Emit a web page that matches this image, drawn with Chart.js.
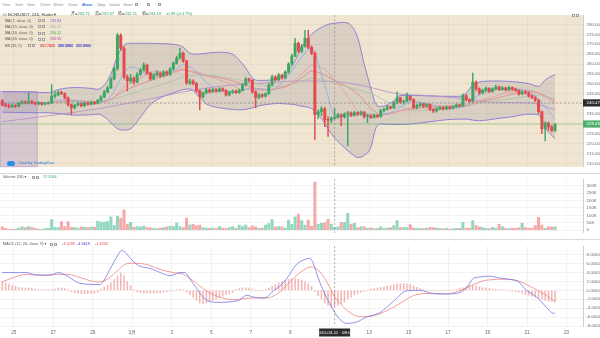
<!DOCTYPE html>
<html>
<head>
<meta charset="utf-8">
<title>BCH/USDT, 240, Huobi</title>
<script src="https://cdn.jsdelivr.net/npm/chart.js@4.4.1/dist/chart.umd.min.js"></script>
<style>
  html, body { margin: 0; padding: 0; }
  body { width: 600px; height: 338px; overflow: hidden; position: relative; background: #ffffff;
         font-family: "Liberation Sans", "DejaVu Sans", "Noto Sans CJK SC", sans-serif; }
  canvas { position: absolute; left: 0; }
  .t { position: absolute; white-space: nowrap; transform: scale(0.5); transform-origin: 0 0; }
  .box { position: absolute; width: 3.2px; height: 3.2px; border: 0.5px solid #a0a0a0; box-sizing: border-box; background: #fff; }
  .sep { position: absolute; left: 0; width: 600px; height: 1px; background: #d9d9d9; }
</style>
</head>
<body>
<script>
// 4小时K线, 索引0 ≈ 2月24日 12:00
const opens = [
  241.5, 239.5, 239.0, 238.6, 239.2, 238.8, 240.2, 241.0, 240.4, 241.2,
  240.5, 240.0, 240.6, 239.8, 240.3, 240.5, 243.8, 244.5, 245.8, 245.2,
  243.0, 239.5, 238.0, 239.4, 240.2, 239.0, 240.5, 239.8, 240.8, 240.2,
  241.8, 243.5, 246.0, 248.0, 252.5, 257.8, 274.5, 268.0, 253.5, 251.5,
  253.0, 251.0, 255.0, 257.0, 259.5, 255.5, 252.5, 254.5, 255.5, 254.0,
  256.0, 254.8, 257.5, 260.5, 263.0, 265.5, 261.5, 250.5, 251.5, 250.2,
  246.5, 243.5, 245.5, 247.0, 246.0, 247.2, 246.3, 247.5, 246.8, 244.5,
  245.8, 246.4, 245.6, 246.8, 249.5, 252.5, 251.8, 246.0, 243.2, 244.5,
  243.8, 245.0, 249.5, 253.5, 252.0, 254.5, 253.0, 256.0, 260.0, 264.0,
  270.5, 266.5, 269.0, 273.0, 268.5, 265.5, 234.5, 236.0, 237.5, 232.0,
  231.8, 232.71, 233.2, 234.5, 233.5, 234.8, 235.5, 234.2, 235.6, 234.8,
  235.8, 233.5, 234.0, 233.2, 234.2, 233.6, 236.5, 237.2, 238.5, 238.0,
  240.5, 243.0, 240.8, 241.3, 243.6, 242.2, 238.2, 239.2, 240.0, 238.8,
  239.6, 237.2, 236.4, 237.5, 238.2, 237.4, 238.5, 237.8, 238.6, 239.5,
  239.0, 244.2, 242.0, 241.2, 251.0, 247.5, 245.5, 246.8, 247.8, 246.2,
  247.5, 248.6, 247.2, 248.0, 247.0, 248.2, 247.4, 246.8, 245.0, 246.0,
  245.5, 244.0, 243.2, 241.8, 236.0, 227.5, 230.3, 228.4, 226.6
]
const highs = [
  242.3, 240.2, 239.8, 239.9, 239.6, 240.8, 241.8, 241.5, 245.5, 241.8,
  241.0, 241.2, 240.9, 240.8, 241.2, 249.7, 246.0, 246.6, 246.4, 245.6,
  243.4, 240.0, 239.8, 240.9, 240.5, 241.0, 240.9, 241.4, 241.2, 242.3,
  244.2, 246.8, 248.9, 253.5, 258.6, 275.5, 275.2, 268.8, 254.5, 254.8,
  253.6, 255.8, 257.9, 260.6, 260.0, 256.0, 255.2, 256.8, 256.0, 256.8,
  256.6, 258.2, 261.2, 264.0, 268.0, 266.0, 262.0, 252.6, 252.2, 250.8,
  247.0, 246.0, 247.8, 247.6, 247.9, 247.7, 248.2, 248.0, 247.2, 246.4,
  247.0, 246.9, 247.4, 250.2, 253.4, 253.0, 252.2, 246.5, 245.2, 245.0,
  245.6, 250.3, 254.5, 254.2, 255.4, 255.0, 256.8, 260.8, 265.0, 273.0,
  271.2, 270.0, 277.0, 277.0, 269.2, 266.0, 237.0, 238.6, 238.2, 233.5,
  233.6, 237.67, 235.2, 235.0, 235.5, 236.2, 236.0, 236.2, 236.0, 236.5,
  236.1, 234.8, 234.6, 234.8, 234.6, 237.2, 237.9, 239.2, 239.0, 241.2,
  246.0, 243.4, 242.0, 245.5, 244.0, 242.6, 239.9, 240.6, 240.4, 240.2,
  240.0, 237.6, 238.0, 238.8, 238.6, 239.0, 238.9, 239.2, 240.0, 239.9,
  245.0, 244.6, 242.5, 255.5, 251.6, 248.0, 247.4, 248.6, 248.2, 248.1,
  249.4, 249.0, 248.7, 248.4, 248.9, 248.6, 247.9, 247.2, 246.6, 246.4,
  245.9, 244.6, 243.6, 242.3, 236.5, 231.0, 230.8, 229.0, 230.2
]
const lows = [
  239.0, 238.4, 238.0, 238.2, 238.1, 238.5, 239.8, 239.9, 240.0, 239.9,
  239.4, 239.5, 239.2, 239.4, 239.8, 240.2, 243.0, 244.0, 244.6, 242.5,
  238.8, 234.5, 237.5, 238.9, 238.4, 238.7, 239.2, 239.5, 239.7, 239.9,
  241.4, 243.0, 245.5, 247.6, 252.0, 257.0, 267.0, 252.5, 246.5, 250.5,
  249.8, 250.5, 254.3, 256.5, 254.8, 251.8, 252.0, 253.8, 253.2, 253.6,
  254.0, 254.2, 257.0, 260.0, 262.5, 260.8, 249.8, 249.6, 249.5, 245.8,
  237.0, 242.8, 245.0, 245.4, 245.6, 245.8, 246.0, 246.2, 243.9, 244.0,
  245.3, 245.1, 245.2, 246.4, 249.0, 251.0, 245.4, 238.0, 242.6, 243.2,
  243.3, 244.6, 249.0, 251.4, 251.6, 252.4, 252.6, 255.5, 259.5, 263.6,
  265.8, 265.8, 268.5, 267.8, 264.8, 222.0, 232.5, 234.0, 228.5, 223.6,
  230.5, 232.21, 232.6, 229.0, 232.8, 219.0, 233.5, 233.8, 234.0, 234.2,
  232.8, 230.5, 232.6, 232.8, 233.0, 233.2, 235.8, 236.8, 237.4, 237.6,
  240.0, 240.2, 240.0, 241.0, 241.6, 237.4, 237.5, 238.6, 238.2, 238.3,
  236.6, 235.5, 235.8, 237.0, 236.8, 237.0, 237.2, 237.4, 238.2, 238.4,
  238.6, 241.5, 240.6, 240.8, 246.8, 244.8, 245.0, 246.2, 245.6, 245.8,
  247.0, 246.6, 246.8, 246.4, 246.6, 246.8, 246.2, 244.4, 244.6, 244.9,
  243.4, 242.6, 241.0, 235.2, 225.0, 221.3, 226.8, 225.8, 226.0
]
const closes = [
  239.5, 239.0, 238.6, 239.2, 238.8, 240.2, 241.0, 240.4, 241.2, 240.5,
  240.0, 240.6, 239.8, 240.3, 240.5, 243.8, 244.5, 245.8, 245.2, 243.0,
  239.5, 238.0, 239.4, 240.2, 239.0, 240.5, 239.8, 240.8, 240.2, 241.8,
  243.5, 246.0, 248.0, 252.5, 257.8, 274.5, 268.0, 253.5, 251.5, 253.0,
  251.0, 255.0, 257.0, 259.5, 255.5, 252.5, 254.5, 255.5, 254.0, 256.0,
  254.8, 257.5, 260.5, 263.0, 265.5, 261.5, 250.5, 251.5, 250.2, 246.5,
  243.5, 245.5, 247.0, 246.0, 247.2, 246.3, 247.5, 246.8, 244.5, 245.8,
  246.4, 245.6, 246.8, 249.5, 252.5, 251.8, 246.0, 243.2, 244.5, 243.8,
  245.0, 249.5, 253.5, 252.0, 254.5, 253.0, 256.0, 260.0, 264.0, 270.5,
  266.5, 269.0, 273.0, 268.5, 265.5, 234.5, 236.0, 237.5, 232.0, 231.8,
  232.7, 233.19, 234.5, 233.5, 234.8, 235.5, 234.2, 235.6, 234.8, 235.8,
  233.5, 234.0, 233.2, 234.2, 233.6, 236.5, 237.2, 238.5, 238.0, 240.5,
  243.0, 240.8, 241.3, 243.6, 242.2, 238.2, 239.2, 240.0, 238.8, 239.6,
  237.2, 236.4, 237.5, 238.2, 237.4, 238.5, 237.8, 238.6, 239.5, 239.0,
  244.2, 242.0, 241.2, 251.0, 247.5, 245.5, 246.8, 247.8, 246.2, 247.5,
  248.6, 247.2, 248.0, 247.0, 248.2, 247.4, 246.8, 245.0, 246.0, 245.5,
  244.0, 243.2, 241.8, 236.0, 227.5, 230.3, 228.4, 226.6, 229.5
]
// 成交量 (K)
const volumes = [
  22, 12, 6, 5, 8, 14, 22, 18, 25, 20,
  12, 8, 6, 10, 12, 71, 20, 18, 58, 25,
  58, 20, 18, 15, 22, 20, 18, 22, 20, 62,
  55, 55, 58, 90, 31, 95, 82, 137, 40, 53,
  20, 24, 22, 28, 18, 16, 12, 10, 14, 18,
  22, 28, 25, 50, 25, 18, 82, 35, 40, 30,
  35, 18, 15, 12, 15, 10, 25, 14, 12, 18,
  25, 12, 35, 25, 35, 18, 30, 22, 12, 15,
  35, 45, 71, 22, 25, 22, 15, 68, 40, 90,
  108, 64, 35, 68, 27, 324, 40, 46, 50, 73,
  40, 20, 22, 53, 53, 114, 40, 46, 18, 22,
  22, 13, 16, 10, 10, 22, 12, 15, 18, 31,
  64, 18, 18, 18, 37, 15, 12, 12, 10, 15,
  20, 18, 15, 12, 10, 12, 8, 10, 12, 12,
  53, 15, 15, 64, 31, 22, 18, 12, 10, 20,
  14, 40, 22, 12, 10, 15, 12, 18, 46, 18,
  12, 15, 31, 86, 35, 13, 22, 22, 22
]
const macdHist = [
  2.0, 1.7, 1.4, 1.1, 0.9, 0.7, 0.6, 0.5, 0.5, 0.4,
  0.3, 0.2, 0.2, 0.1, 0.1, 0.2, 0.3, 0.5, 0.5, 0.4,
  0.2, -0.3, -0.5, -0.6, -0.7, -0.8, -0.8, -0.7, -0.6, -0.4,
  0.3, 0.8, 1.2, 1.7, 2.4, 3.2, 3.9, 3.3, 2.0, 1.0,
  0.2, -0.3, -0.5, -0.6, -0.6, -0.7, -0.7, -0.6, -0.5, -0.4,
  -0.3, -0.2, -0.1, 0.1, 0.2, 0.1, -0.4, -1.0, -1.6, -2.2,
  -2.8, -3.0, -2.8, -2.5, -2.2, -1.9, -1.6, -1.3, -1.0, -0.8,
  -0.5, 0.2, 0.4, 0.6, 0.6, 0.5, 0.3, 0.1, 0.0, -0.1,
  0.1, 0.5, 0.9, 1.3, 1.7, 2.0, 2.2, 2.4, 2.6, 2.6,
  2.5, 2.3, 1.9, 1.5, 0.9, -0.3, -1.2, -2.0, -2.8, -3.4,
  -3.8, -3.5, -3.4, -3.0, -2.6, -2.0, -1.5, -1.0, -0.7, -0.4,
  -0.2, 0.1, 0.3, 0.4, 0.5, 0.7, 0.8, 1.0, 1.1, 1.3,
  1.4, 1.5, 1.6, 1.5, 1.3, 1.0, 0.7, 0.4, 0.2, 0.1,
  0.0, -0.1, -0.1, 0.0, 0.0, 0.1, 0.1, 0.1, 0.2, 0.4,
  0.6, 0.8, 1.0, 1.1, 1.0, 0.8, 0.6, 0.5, 0.4, 0.3,
  0.2, 0.2, 0.1, 0.1, 0.0, -0.2, -0.3, -0.4, -0.6, -0.9,
  -1.1, -1.3, -1.5, -1.8, -2.0, -2.2, -2.4, -2.5, -2.6
]

// 指标线 (读图采样点, x = K线索引)
const lineX = [0, 8, 14, 17, 22, 27, 29, 31, 33, 35, 37, 39, 41, 43, 45, 48, 52, 55, 57, 59,
  62, 66, 70, 72, 74, 76, 78, 82, 84, 86, 88, 90, 92, 94, 97, 99, 101, 104, 106, 108,
  110, 112, 113.5, 115, 119, 121, 125, 130, 135, 139, 141, 143, 145, 150, 155, 160, 163, 165, 168]
const bbUpper = [246.2, 246.0, 245.6, 247.2, 248.2, 247.8, 247.3, 249.5, 255, 264, 269.5, 270.5, 270.5, 270.5, 270.5, 270.3, 270, 268.5, 265.5, 265,
  265.5, 266, 265, 262, 258, 253, 251.8, 252, 253, 255, 259, 265, 271, 275, 278.5, 280, 280.6, 281, 279.5, 273.5,
  260, 248, 240, 238.6, 241.5, 244.2, 244.2, 244, 243.8, 243.8, 245.5, 249.5, 251, 251.5, 251.2, 250.2, 248.8, 252, 254.8]
const bbLower = [235.8, 235.6, 235.5, 235.2, 234.3, 234.5, 234.8, 233.5, 230.5, 227.5, 226.8, 227.5, 231, 235.5, 239.5, 243, 245.5, 247.2, 247.5, 245,
  240, 238, 237.2, 237, 237.2, 238, 239, 240, 240.2, 240, 239.8, 239.2, 238.5, 237.6, 232.5, 227.5, 222.9, 218, 215, 213,
  214, 218, 227.5, 229.8, 229.6, 229.6, 230, 231, 232, 232.3, 232.3, 231.8, 231.5, 232.5, 233.5, 234.8, 234.5, 228, 222.5]
const bbBasis = [240.5, 240.6, 240.5, 241.0, 241.3, 241.2, 241.0, 241.3, 242.2, 244.5, 246.5, 248, 249.3, 250.5, 251.8, 253.5, 256, 257.5, 256.5, 255.5,
  254.2, 253.2, 251.5, 250.5, 249.5, 248, 247.5, 247.2, 247.8, 248.5, 250, 252, 254.3, 256.5, 255.3, 253.7, 251.7, 249.3, 247.4, 244.9,
  241.5, 237.7, 235.9, 234.4, 235.5, 236.5, 237.4, 238.2, 238.3, 238.5, 239.1, 240.2, 241, 242.8, 244.8, 246.3, 245.5, 244, 241.5]
const ma7 = [240.2, 240.4, 240.3, 242.0, 241.8, 239.8, 240.4, 241.4, 243.8, 249.5, 255.5, 258.5, 257.8, 255.5, 255, 255.2, 256.3, 259.8, 258.5, 256.5,
  250.8, 246.5, 246.1, 246.3, 247.4, 248, 247.6, 247, 249.2, 252.4, 256.6, 261.3, 265.6, 268.1, 254.9, 243.7, 234, 233.4, 234.3, 234.9,
  235, 234.4, 234.2, 234.4, 236.3, 238.6, 241.2, 239.6, 237.6, 238.3, 239.4, 242.5, 244.5, 247.3, 247.6, 246.2, 242.5, 238.5, 232.5]
const ma15 = [240.5, 240.4, 240.3, 241.0, 241.8, 241.2, 240.8, 241.0, 242.2, 245, 248.5, 250.5, 252, 254, 256, 256.2, 255.5, 257, 256.5, 256,
  254.5, 252, 249.5, 247.5, 247.2, 247.3, 246.8, 247.3, 248, 248.8, 250.8, 253.5, 256.5, 259.5, 258, 256, 251.6, 246, 241, 236.2,
  234.7, 234.4, 234.3, 234.5, 235.5, 236.5, 238.3, 239.2, 239, 238.6, 239.2, 240.3, 241.5, 244, 246.2, 247, 245.3, 243.5, 240.2]
const ma30 = [240.8, 240.6, 240.5, 240.6, 241, 241.3, 241.2, 241.5, 242, 243, 244, 245, 246, 247, 248, 249.5, 251.8, 253.5, 254.2, 254.5,
  254.5, 253.8, 252.5, 252, 251.2, 250.5, 249.8, 248.8, 248.8, 249.2, 250, 251, 252, 252.8, 252.3, 251.4, 250.2, 249, 248, 247.2,
  246.2, 245.4, 244.2, 242.8, 239.5, 238.5, 236.4, 237, 237.7, 238.1, 238.8, 239.5, 240.4, 241.6, 242.7, 243.9, 244.3, 243.7, 242.7]
const ma60X = [0, 14, 29, 45, 55, 62, 70, 80, 90, 101, 110, 120, 130, 140, 150, 160, 168]
const ma60 = [231, 234, 237.5, 242.5, 246, 248, 249.5, 250.5, 251.5, 251.2, 249, 245.1, 244.1, 242.7, 240.7, 240.5, 237]

const macdX = [0, 7.4, 10, 14.5, 17, 19.6, 21, 23.6, 29.7, 30.7, 32.7, 34.8, 36.3, 37.8, 39.8, 41.9, 43.9, 45.9, 48, 51,
  54, 55.5, 57, 59, 61, 63, 66, 70, 72, 74.3, 76.3, 79.3, 80.4, 82.4, 84.4, 86.4, 89.4, 91.5, 93.5, 94.5,
  96, 98, 100, 101, 102, 104.6, 107.7, 110.7, 114.8, 118.8, 122.9, 127, 131, 135, 138, 141, 143, 145, 148, 151,
  154, 157, 159, 161, 163, 165.5, 167, 168]
const macdLine = [4.0, 4.0, 3.5, 3.4, 4.0, 3.3, 2.6, 1.6, 1.3, 2.0, 4.7, 7.5, 9.0, 8.2, 6.5, 5.4, 5.1, 4.7, 4.0, 3.3,
  4.0, 4.0, 2.6, 0.5, -1.5, -2.5, -2.7, -2.5, -2.2, -1.1, -1.5, -1.7, -1.5, -0.1, 1.0, 2.6, 5.8, 6.8, 7.2, 6.1,
  2.8, -0.8, -3.6, -4.94, -6.0, -7.4, -7.1, -6.0, -5.0, -2.5, -0.1, 0.0, -0.7, -0.8, -0.7, 0.5, 2.6, 3.0, 3.2, 2.8,
  2.5, 1.9, 0.2, -0.8, -1.9, -3.9, -5.0, -5.2]
const signalX = [0, 3.4, 7.4, 11.5, 16.5, 19.6, 23.6, 27.7, 29.7, 32.7, 34.8, 37.8, 39.8, 43.9, 48, 52, 55, 58, 62, 66,
  70, 76.3, 80.4, 84.4, 87.4, 90.5, 94, 96.5, 99.6, 101, 102.6, 105.7, 108.7, 112.8, 116.8, 120.9, 124.9, 129, 135, 139,
  143.1, 147.2, 153.3, 157.3, 161.4, 165.5, 168]
const signalLine = [1.9, 2.9, 3.6, 3.4, 3.6, 3.6, 2.9, 2.0, 1.9, 2.9, 4.3, 6.0, 6.1, 5.8, 4.7, 4.0, 3.6, 2.2, -0.1, -1.5,
  -2.1, -1.7, -1.7, -0.3, 1.9, 4.0, 5.3, 4.2, 0.6, -1.43, -2.9, -5.0, -5.9, -5.7, -4.6, -2.9, -1.2, -0.7, -0.8, -0.1,
  1.3, 2.3, 2.5, 2.0, 0.5, -1.2, -2.5]

// 时间轴
const tickPos = [3.5, 15.5, 27.5, 39.5, 51.5, 63.5, 75.5, 87.5, 99.5, 111.5, 123.5, 135.5, 147.5, 159.5, 171.5]
const tickLabels = ['25', '27', '29', '3月', '3', '5', '7', '9', '11', '13', '15', '17', '19', '21', '23']

const crossIndex = 101
const crossPrice = 240.47
const lastPrice = 229.84

const X_MIN = -0.7
const X_MAX = 176.5
const UP = '#3ea665'
const DOWN = '#e5484d'
const VOL_UP = '#94d7c1'
const VOL_DOWN = '#f5aaa9'
const PANE_BG = '#f0e5d0'
const BAND = '#8478d4'
const FONT = '"Liberation Sans", "DejaVu Sans", sans-serif'

Chart.defaults.font.family = FONT
Chart.defaults.animation = false

function makeCanvas(top, h) {
  const c = document.createElement('canvas')
  c.width = 600
  c.height = h
  c.style.top = top + 'px'
  document.body.appendChild(c)
  return c
}

function xAxis(showLabels) {
  return {
    type: 'linear',
    min: X_MIN,
    max: X_MAX,
    offset: false,
    afterBuildTicks: (s) => { s.ticks = tickPos.map((v) => ({ value: v })) },
    afterFit: (s) => { s.height = showLabels ? 12 : 0 },
    grid: { color: showLabels ? '#f1f1f1' : 'rgba(0,0,0,0.03)', drawTicks: false, offset: false },
    border: { display: false },
    ticks: {
      display: showLabels,
      padding: 4,
      maxRotation: 0,
      autoSkip: false,
      font: { size: 4.6 },
      color: '#666',
      callback: (v, i) => tickLabels[i],
    },
  }
}

function rightAxis(min, max, step, fmt, gridColor) {
  return {
    position: 'right',
    min: min,
    max: max,
    afterFit: (s) => { s.width = 17 },
    grid: { color: gridColor, drawTicks: false },
    border: { display: true, color: '#cfcfcf' },
    ticks: { stepSize: step, includeBounds: false, padding: 3.5, font: { size: 4.4 }, color: '#6b6b6b', callback: fmt },
  }
}

function lineSet(xs, ys, color, order, extra) {
  return Object.assign({
    type: 'line',
    data: xs.map((x, k) => ({ x: x, y: ys[k] })),
    borderColor: color,
    borderWidth: 0.8,
    pointRadius: 0,
    fill: false,
    cubicInterpolationMode: 'monotone',
    order: order,
  }, extra || {})
}

// 十字光标竖线
const crossV = {
  id: 'crossV',
  afterDatasetsDraw(chart) {
    const { ctx, chartArea, scales } = chart
    const x = scales.x.getPixelForValue(crossIndex)
    ctx.save()
    ctx.strokeStyle = '#8a8a8a'
    ctx.lineWidth = 0.7
    ctx.setLineDash([2, 2])
    ctx.beginPath()
    ctx.moveTo(x, chartArea.top)
    ctx.lineTo(x, chartArea.bottom)
    ctx.stroke()
    ctx.restore()
  },
}

function axisTag(chart, value, text, bg) {
  const { ctx, scales, chartArea } = chart
  const y = scales.y.getPixelForValue(value)
  ctx.save()
  ctx.fillStyle = bg
  ctx.fillRect(chartArea.right, y - 3.6, 17, 7.2)
  ctx.fillStyle = '#ffffff'
  ctx.font = '4.4px ' + FONT
  ctx.textBaseline = 'middle'
  ctx.fillText(text, chartArea.right + 3.5, y + 0.2)
  ctx.restore()
}

// ---------- 主图 ----------
const c1 = makeCanvas(9, 164)
const candleColors = closes.map((c, i) => (c >= opens[i] ? UP : DOWN))

new Chart(c1, {
  type: 'bar',
  data: {
    datasets: [
      { type: 'bar', data: closes.map((c, i) => ({ x: i, y: [opens[i], c] })), backgroundColor: candleColors,
        barThickness: 2.3, grouped: false, minBarLength: 0.7, order: 0 },
      { type: 'bar', data: highs.map((h, i) => ({ x: i, y: [lows[i], h] })), backgroundColor: candleColors,
        barThickness: 0.8, grouped: false, order: 1 },
      lineSet(lineX, ma7, '#86acea', 2),
      lineSet(lineX, ma15, '#e79a9a', 3),
      lineSet(lineX, ma30, '#adc2a6', 4),
      lineSet(ma60X, ma60, '#b98acb', 5),
      lineSet(lineX, bbBasis, '#e27a7a', 6, { borderWidth: 0.7 }),
      lineSet(lineX, bbUpper, BAND, 7, { borderWidth: 0.9 }),
      lineSet(lineX, bbLower, BAND, 8, { borderWidth: 0.9, fill: '-1', backgroundColor: 'rgba(125, 118, 140, 0.2)' }),
    ],
  },
  options: {
    responsive: false,
    devicePixelRatio: 1,
    events: [],
    layout: { padding: 0 },
    plugins: { legend: { display: false }, tooltip: { enabled: false } },
    scales: {
      x: xAxis(false),
      y: rightAxis(208.27, 284.66, 5, (v) => v.toFixed(2), 'rgba(0,0,0,0.03)'),
    },
  },
  plugins: [
    {
      id: 'paneBg',
      beforeDraw(chart) {
        const { ctx, chartArea } = chart
        ctx.save()
        ctx.fillStyle = PANE_BG
        ctx.fillRect(chartArea.left, chartArea.top, chartArea.right - chartArea.left, chartArea.bottom - chartArea.top)
        ctx.restore()
      },
      beforeDatasetsDraw(chart) {
        // 左侧矩形标注
        const { ctx, scales, chartArea } = chart
        const x1 = scales.x.getPixelForValue(10.6)
        const y0 = scales.y.getPixelForValue(246.3)
        ctx.save()
        ctx.fillStyle = 'rgba(150, 125, 205, 0.28)'
        ctx.fillRect(chartArea.left, y0, x1 - chartArea.left, chartArea.bottom - y0)
        ctx.strokeStyle = 'rgba(125, 100, 195, 0.55)'
        ctx.lineWidth = 0.6
        ctx.strokeRect(chartArea.left, y0, x1 - chartArea.left, chartArea.bottom - y0)
        ctx.restore()
      },
      afterDatasetsDraw(chart) {
        const { ctx, scales, chartArea } = chart
        const yl = scales.y.getPixelForValue(lastPrice)
        const yc = scales.y.getPixelForValue(crossPrice)
        ctx.save()
        ctx.strokeStyle = 'rgba(76, 175, 80, 0.4)'
        ctx.lineWidth = 1
        ctx.beginPath()
        ctx.moveTo(chartArea.left, yl)
        ctx.lineTo(chartArea.right, yl)
        ctx.stroke()
        ctx.strokeStyle = '#8a8a8a'
        ctx.lineWidth = 0.7
        ctx.setLineDash([2, 2])
        ctx.beginPath()
        ctx.moveTo(chartArea.left, yc)
        ctx.lineTo(chartArea.right, yc)
        ctx.stroke()
        ctx.restore()
      },
      afterDraw(chart) {
        axisTag(chart, crossPrice, '240.47', '#2b2b2b')
        axisTag(chart, lastPrice, '229.49', '#4caf6a')
      },
    },
    crossV,
  ],
})

// ---------- 成交量 ----------
const c2 = makeCanvas(173, 66)
new Chart(c2, {
  type: 'bar',
  data: {
    datasets: [
      { data: volumes.map((v, i) => ({ x: i, y: v })), backgroundColor: closes.map((c, i) => (c >= opens[i] ? VOL_UP : VOL_DOWN)),
        barThickness: 2.4, grouped: false },
    ],
  },
  options: {
    responsive: false,
    devicePixelRatio: 1,
    events: [],
    plugins: { legend: { display: false }, tooltip: { enabled: false } },
    scales: {
      x: xAxis(false),
      y: rightAxis(-18.1, 344.5, 50, (v) => (v === 0 ? '0' : v + 'K'), '#f2f2f2'),
    },
  },
  plugins: [crossV],
})

// ---------- MACD ----------
const c3 = makeCanvas(240, 98)
new Chart(c3, {
  type: 'bar',
  data: {
    datasets: [
      lineSet(macdX, macdLine, '#7676e6', 0, { borderWidth: 0.8 }),
      lineSet(signalX, signalLine, '#ef8585', 1, { borderWidth: 0.8 }),
      { type: 'bar', data: macdHist.map((v, i) => ({ x: i, y: v })), backgroundColor: 'rgba(236, 110, 110, 0.5)',
        barThickness: 0.9, grouped: false, order: 2 },
    ],
  },
  options: {
    responsive: false,
    devicePixelRatio: 1,
    events: [],
    plugins: { legend: { display: false }, tooltip: { enabled: false } },
    scales: {
      x: xAxis(true),
      y: Object.assign(rightAxis(-8, 9.94, 2, (v) => v.toFixed(4), '#f2f2f2'), {
        afterBuildTicks: (s) => { s.ticks = s.ticks.filter((t) => t.value <= 8.5) },
      }),
    },
  },
  plugins: [
    crossV,
    {
      id: 'dateTag',
      afterDraw(chart) {
        const { ctx, scales, chartArea } = chart
        const x = scales.x.getPixelForValue(crossIndex)
        ctx.save()
        ctx.fillStyle = '#2b2b2b'
        ctx.fillRect(x - 15.5, chartArea.bottom + 2.5, 31, 8)
        ctx.fillStyle = '#ffffff'
        ctx.font = '4.4px ' + FONT
        ctx.textAlign = 'center'
        ctx.textBaseline = 'middle'
        ctx.fillText('2020-03-11 · 08:00', x, chartArea.bottom + 6.6)
        ctx.restore()
      },
    },
  ],
})

// ---------- 文字 ----------
function addText(x, y, html, size, color, weight) {
  const d = document.createElement('div')
  d.className = 't'
  d.innerHTML = html
  d.style.left = x + 'px'
  d.style.top = (y - size / 2) + 'px'
  d.style.fontSize = (size * 2) + 'px'
  d.style.lineHeight = (size * 2) + 'px'
  d.style.color = color
  if (weight) d.style.fontWeight = weight
  document.body.appendChild(d)
}
function addBoxes(x, y, n) {
  for (let k = 0; k < n; k++) {
    const b = document.createElement('div')
    b.className = 'box'
    b.style.left = (x + k * 4.2) + 'px'
    b.style.top = (y - 1.6) + 'px'
    document.body.appendChild(b)
  }
}
function sep(y) {
  const s = document.createElement('div')
  s.className = 'sep'
  s.style.top = y + 'px'
  document.body.appendChild(s)
}

sep(173)
sep(239)

// 工具栏
const toolbar = [['Time', 2], ['1min', 14.5], ['5min', 27], ['15min', 39.5], ['30min', 53], ['1hour', 68],
  ['4hour', 81.5], ['1day', 96.5], ['1week', 109], ['1mon', 122.5]]
toolbar.forEach(([t, x]) => addText(x, 4.6, t, 3.8, t === '4hour' ? '#2f6fd6' : '#8c8c8c', t === '4hour' ? 'bold' : null))
addBoxes(135, 4.6, 1)
addBoxes(146.5, 4.6, 1)
addBoxes(157.5, 4.6, 1)

// 主图图例
const G = '#2e9d57'
addText(3, 14.5, '⊟', 4.4, '#777')
addText(8, 14.5, 'BCH/USDT, 240, Huobi ▾', 4.3, '#333')
addText(71, 14.5, '<span style="color:#444">开=</span>232.71', 4.1, G)
addText(94.5, 14.5, '<span style="color:#444">高=</span>237.67', 4.1, G)
addText(118, 14.5, '<span style="color:#444">低=</span>232.21', 4.1, G)
addText(141.5, 14.5, '<span style="color:#444">收=</span>233.19', 4.1, G)
addText(166, 14.5, '-0.39 (-0.17%)', 4.1, G)

const maRows = [['MA (7, close, 0)', '233.84', '#7b5fd6'], ['MA (15, close, 0)', '251.27', '#9a9a9a'],
  ['MA (30, close, 0)', '250.11', '#3fa34d'], ['MA (60, close, 0)', '250.55', '#b048a8']]
maRows.forEach(([t, v, c], k) => {
  const y = 20.7 + k * 6.2
  addText(5, y, t, 3.7, '#555')
  addBoxes(38, y, 2)
  addText(50, y, v, 3.7, c)
})
addText(5, 45.5, 'BB (20, 2)', 3.7, '#555')
addBoxes(28, 45.5, 2)
addText(40, 45.5, '251.7430', 3.6, '#e04848', 'bold')
addText(58, 45.5, '280.5880', 3.6, '#3a3ad0', 'bold')
addText(76, 45.5, '222.8960', 3.6, '#3a3ad0', 'bold')
addBoxes(572, 15.5, 2)

// logo
const logo = document.createElement('div')
logo.style.cssText = 'position:absolute;left:7px;top:160.5px;width:8px;height:5px;border-radius:2.5px;background:#2a8ee8'
document.body.appendChild(logo)
addText(18, 163.3, 'Chart by TradingView', 3.8, '#2a7ad6')

// 成交量图例
addText(3, 177.3, 'Volume (20) ▾', 3.8, '#555')
addBoxes(32, 177.3, 2)
addText(43, 177.3, '17.5064', 3.8, '#26a67a')

// MACD 图例
addText(3, 244.3, 'MACD (12, 26, close, 9) ▾', 3.8, '#555')
addBoxes(50, 244.3, 2)
addText(62, 244.3, '-3.5099', 3.8, '#e04848')
addText(77, 244.3, '-4.9419', 3.8, '#3a3ad0')
addText(95, 244.3, '-1.4320', 3.8, '#e04848')
</script>
</body>
</html>
